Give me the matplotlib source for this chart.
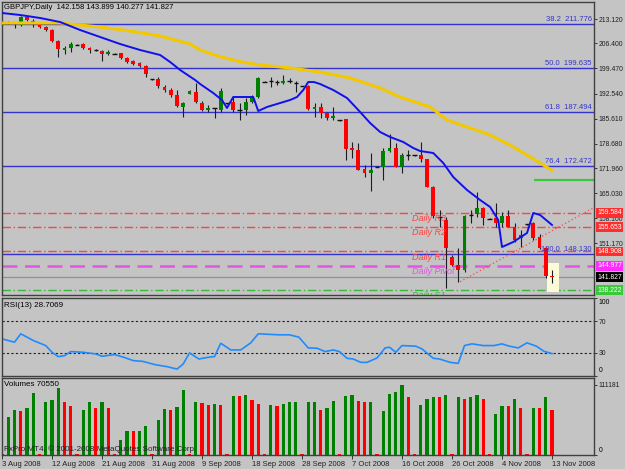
import numpy as np
import matplotlib
matplotlib.use('Agg')
import matplotlib.pyplot as plt
import matplotlib.transforms as mtransforms
from matplotlib.patches import Rectangle

plt.rcParams['font.family'] = ['Liberation Sans', 'DejaVu Sans']

# GBPJPY daily, one slot per trading day (Sunday bars included), slot 0 = Sun 3 Aug 2008
opens = [212.29, 212.29, 212.21, 211.46, 213.59, 212.65, 211.66, 210.83, 210.08, 207.13,
         204.56, 205.03, 206.13, 206.13, 205.20, 204.56, 204.37, 203.46, 203.65, 203.65,
         202.27, 201.52, 200.89, 200.14, 196.55, 196.55, 194.42, 193.51, 192.13, 188.90,
         192.41, 193.04, 190.00, 187.99, 188.54, 187.99, 189.92, 190.28, 187.99, 187.99,
         190.28, 191.66, 195.80, 195.80, 195.53, 195.36, 196.00, 195.80, 194.62, 194.62,
         188.18, 188.73, 187.08, 185.70, 185.14, 185.42, 177.41, 176.94, 171.61, 170.50,
         172.33, 172.33, 176.75, 177.41, 172.33, 175.56, 175.56, 175.56, 174.37, 166.80,
         158.44, 157.61, 147.47, 145.18, 143.80, 158.99, 159.26, 161.00, 158.07, 158.24,
         156.69, 158.71, 155.59, 152.55, 156.50, 156.69, 152.83, 149.79, 142.158]
highs = [212.43, 212.57, 212.29, 214.03, 213.81, 213.04, 211.74, 211.19, 210.28, 207.32,
         205.66, 206.85, 206.22, 206.58, 205.47, 204.92, 204.56, 204.56, 203.73, 203.73,
         202.71, 201.80, 201.25, 200.42, 196.63, 197.02, 194.89, 193.98, 193.51, 190.28,
         193.43, 195.53, 190.47, 189.37, 188.62, 193.98, 190.00, 191.66, 189.84, 191.22,
         192.13, 197.19, 195.91, 197.02, 196.27, 197.66, 196.74, 196.00, 194.70, 194.81,
         189.84, 189.84, 187.52, 188.90, 185.23, 185.58, 179.23, 178.79, 172.80, 176.03,
         172.44, 177.41, 181.36, 178.79, 176.03, 176.94, 175.64, 179.23, 174.54, 166.99,
         160.37, 158.52, 147.94, 149.79, 159.00, 160.37, 165.42, 161.28, 158.16, 162.22,
         159.90, 160.37, 156.69, 154.84, 156.58, 157.14, 153.74, 150.23, 143.899]
lows = [212.02, 211.74, 210.55, 211.19, 212.57, 210.83, 210.77, 209.81, 206.85, 202.54,
        203.46, 204.09, 205.94, 204.84, 203.81, 204.28, 201.61, 203.18, 203.46, 202.07,
        200.89, 200.42, 199.95, 197.19, 196.36, 194.15, 193.04, 191.66, 188.73, 185.97,
        192.32, 189.84, 187.71, 187.44, 185.70, 187.52, 189.65, 187.52, 185.23, 186.61,
        189.84, 191.22, 195.64, 194.26, 194.89, 195.17, 195.36, 193.04, 194.53, 187.99,
        186.14, 185.70, 185.23, 185.23, 185.03, 174.18, 174.65, 171.33, 169.57, 165.70,
        172.16, 168.65, 176.47, 172.16, 170.50, 174.18, 175.37, 173.71, 166.64, 158.16,
        155.67, 138.74, 144.90, 140.56, 143.33, 156.69, 158.52, 156.23, 157.88, 155.76,
        155.76, 155.59, 151.61, 150.23, 156.31, 152.08, 149.51, 141.50, 140.277]
closes = [212.16, 212.02, 211.66, 213.76, 212.85, 211.66, 210.83, 210.08, 207.05, 204.75,
          205.03, 206.13, 206.08, 205.20, 204.56, 204.48, 203.46, 204.09, 203.59, 202.27,
          201.25, 200.69, 200.14, 197.93, 196.47, 194.62, 193.51, 192.13, 189.09, 190.00,
          193.32, 190.28, 187.99, 188.62, 188.46, 193.32, 189.84, 187.99, 187.90, 190.28,
          191.66, 196.74, 195.80, 195.91, 195.64, 196.00, 195.91, 195.53, 194.62, 188.18,
          188.73, 187.08, 185.70, 186.41, 185.14, 177.22, 176.94, 171.42, 170.50, 171.42,
          172.24, 176.75, 177.41, 172.33, 175.56, 175.48, 175.48, 174.37, 166.80, 158.71,
          158.35, 149.79, 145.18, 143.80, 158.71, 158.90, 161.00, 158.07, 158.02, 156.69,
          158.71, 155.76, 152.08, 153.46, 156.42, 152.55, 149.79, 142.16, 141.827]
volumes = [1500, 60200, 70600, 70400, 74100, 98800, 1500, 83400, 87500, 106100,
           83400, 78300, 1500, 70600, 83400, 74100, 84500, 75200, 1500, 24200,
           38100, 37500, 38200, 46300, 1500, 55100, 73000, 70600, 75700, 103000,
           1500, 84500, 81800, 79200, 80300, 79200, 1500, 93700, 93000, 95300,
           87500, 80300, 1500, 79200, 78300, 80300, 83400, 84500, 1500, 83400,
           83800, 71500, 74600, 85400, 1500, 93700, 95300, 85400, 84000, 84700,
           1500, 69000, 96200, 99900, 111181, 92600, 1500, 79200, 88000, 92600,
           92000, 95300, 1500, 92600, 89500, 92600, 95300, 88000, 1500, 64900,
           78300, 77200, 89500, 74600, 1500, 74600, 74000, 91600, 70550]

date_slots = [0, 8, 16, 24, 32, 40, 48, 56, 64, 72, 80, 88]
date_labels = ['3 Aug 2008', '12 Aug 2008', '21 Aug 2008', '31 Aug 2008', '9 Sep 2008',
               '18 Sep 2008', '28 Sep 2008', '7 Oct 2008', '16 Oct 2008', '26 Oct 2008',
               '4 Nov 2008', '13 Nov 2008']

# moving averages
blue_x = [0, 2.9, 6.1, 9.3, 12.5, 15.7, 18.9, 22.1, 25.3, 26.9, 28.5, 30.9, 31.7, 33.8, 35.2,
          36.0, 37.0, 40.2, 41.0, 42.4, 44.5, 46.1, 47.2, 48.2, 49.0, 49.9, 50.9, 53.0, 55.2,
          57.3, 58.9, 60.5, 62.1, 64.2, 65.8, 66.9, 69.0, 70.6, 72.2, 74.4, 76.5, 78.1, 79.4,
          80.0, 81.8, 84.0, 85.0, 86.1, 88.0]
blue_y = [214.78, 214.23, 213.40, 212.29, 210.08, 208.15, 206.22, 204.56, 203.18, 201.25,
          199.04, 196.27, 195.17, 192.68, 190.75, 188.54, 191.58, 191.58, 187.71, 188.82,
          189.92, 190.75, 191.58, 193.51, 195.72, 195.72, 195.17, 193.51, 191.30, 187.44,
          184.40, 181.91, 180.53, 179.15, 177.49, 176.66, 176.11, 173.35, 169.48, 165.89,
          163.13, 161.20, 157.61, 150.15, 151.53, 154.01, 159.54, 158.99, 156.23]
yellow_x = [0, 9.3, 15.7, 20.5, 25.3, 30.1, 31.7, 34.9, 38.1, 41.3, 46.1, 50.9, 55.7, 60.5,
            63.7, 68.5, 71.2, 74.9, 78.1, 81.3, 84.5, 88.2]
yellow_y = [212.02, 212.02, 210.91, 209.81, 208.43, 206.22, 204.56, 202.71, 201.33, 200.42,
            199.59, 198.48, 196.83, 194.06, 191.58, 188.82, 185.23, 183.02, 181.08, 178.32,
            175.01, 171.14]

rsi_x = [0, 2, 3, 5, 7, 8, 9, 10, 11, 13, 15, 16, 18, 19.5, 21, 22.5, 24.5, 26.4, 28, 29,
         30, 31.5, 33, 34, 35, 36.6, 38.2, 39.8, 41, 44.3, 46, 47.5, 49, 50.4, 51.7, 53, 54,
         55.2, 56.2, 57.4, 58.4, 60, 61.3, 62, 63, 64, 66.2, 67.2, 69, 70, 71.7, 73, 74,
         75.2, 77, 78.7, 80, 81, 82.6, 84, 85.5, 86.7, 88]
rsi_y = [47.6, 43.3, 54.1, 45.5, 39.0, 30.4, 24.9, 26.0, 31.3, 30.4, 28.3, 25.3, 27.5, 24.0,
         19.7, 18.8, 14.5, 12.0, 8.9, 15.4, 29.6, 21.8, 24.0, 24.9, 42.0, 33.4, 33.4, 42.5,
         54.1, 52.8, 52.8, 49.8, 36.0, 35.6, 31.3, 33.4, 31.3, 22.7, 21.8, 17.5, 17.5, 23.1,
         36.0, 36.9, 30.4, 39.0, 38.2, 34.7, 22.7, 21.8, 17.5, 16.2, 39.0, 41.2, 39.0, 39.0,
         41.2, 38.6, 36.0, 42.5, 38.2, 31.7, 28.7069]

fib_names = ['38.2', '50.0', '61.8', '76.4', '100.0']
fib_levels = [211.776, 199.635, 187.494, 172.472, 148.130]
pivot_names = ['Daily R3', 'Daily R2', 'Daily R1', 'Daily Pivot', 'Daily S1']
pivot_levels = [159.584, 155.653, 148.908, 144.977, 138.222]
price_ticks = [213.120, 206.400, 199.470, 192.540, 185.610, 178.680, 171.960, 165.030,
               158.100, 151.170]
trend_x = [73.3, 94.5]
trend_y = [140.56, 160.84]
green_level = 168.66
green_start = 85.1
last_price = 141.827

bg = '#c4c4c4'
W, H = 625, 469
XMAX = 94.72
SCALE_FS = 4.9


def box(x0, y0, x1, y1):
    return [x0 / W, 1 - y1 / H, (x1 - x0) / W, (y1 - y0) / H]


fig = plt.figure(figsize=(6.25, 4.69), dpi=100, facecolor=bg)
ax = fig.add_axes(box(2, 2, 594, 295))
ax_rsi = fig.add_axes(box(2, 298, 594, 376))
ax_vol = fig.add_axes(box(2, 378, 594, 455))

for a in (ax, ax_rsi, ax_vol):
    a.set_facecolor(bg)
    a.set_xlim(0, XMAX)
    for s in a.spines.values():
        s.set_color('#404040')
        s.set_linewidth(1)
    a.yaxis.tick_right()
    a.tick_params(axis='y', direction='out', length=2.5, width=0.6, colors='#202020',
                  labelsize=SCALE_FS, pad=1)
    a.tick_params(axis='x', bottom=False, labelbottom=False)

# ---- main price panel
ax.set_ylim(136.89, 217.82)
ax.set_yticks(price_ticks)
ax.set_yticklabels([f'{v:.3f}' for v in price_ticks])

for name, lvl in zip(fib_names, fib_levels):
    ax.axhline(lvl, color='#3434cc', lw=1.0, zorder=1)
    ax.text(XMAX - 0.35, lvl + 0.25, f'{name}  {lvl:.3f}', ha='right', va='bottom',
            color='#3434cc', fontsize=5.5, zorder=6)

pivot_colors = ['#ff4242', '#ff4242', '#ff4242', '#e455e4', '#3ab83a']
pivot_styles = [(0, (6, 2, 1, 2)), (0, (6, 2, 1, 2)), (0, (6, 2, 1, 2)), (0, (6, 3)),
                (0, (6, 2, 1, 2))]
pivot_widths = [1.0, 1.0, 1.0, 1.8, 1.0]
for name, lvl, col, ls, lw in zip(pivot_names, pivot_levels, pivot_colors, pivot_styles,
                                  pivot_widths):
    ax.axhline(lvl, color=col, lw=lw, linestyle=ls, zorder=1)
    ax.text(65.6, lvl - 0.3, name, ha='left', va='top', color=col, fontsize=6.5,
            style='italic', zorder=6, clip_on=True)

ax.axhline(last_price, color='#8e8eaa', lw=0.9, zorder=1)
ax.hlines(green_level, green_start, XMAX, color='#3cc83c', lw=1.6, zorder=1)
ax.plot(trend_x, trend_y, color='#ff4646', lw=0.9, linestyle=(0, (1, 2)), zorder=2)

ax.plot(yellow_x, yellow_y, color='#f2c800', lw=2.2, zorder=5, solid_capstyle='butt')
ax.plot(blue_x, blue_y, color='#1010ee', lw=1.4, zorder=5)

# highlight of the current bar
last = len(opens) - 1
ax.add_patch(Rectangle((last - 0.85, lows[last] - 2.45), 2.0,
                       highs[last] - lows[last] + 4.2, facecolor='#fbfbd8',
                       edgecolor='none', zorder=2))

o = np.array(opens)
c = np.array(closes)
h = np.array(highs)
l = np.array(lows)
idx = np.arange(len(o))
ax.vlines(idx, l, h, color='#1c1c28', lw=0.8, zorder=3)
doji = np.abs(c - o) < 0.3
up = (c > o) & ~doji
dn = (c < o) & ~doji
ax.bar(idx[up], (c - o)[up], bottom=o[up], width=0.62, color='#008000', zorder=4)
ax.bar(idx[dn], (o - c)[dn], bottom=c[dn], width=0.62, color='#ff0000', zorder=4)
ax.hlines(c[doji], idx[doji] - 0.35, idx[doji] + 0.35, color='#101010', lw=1.0, zorder=4)

# coloured price labels on the right scale
blend = mtransforms.blended_transform_factory(ax.transAxes, ax.transData)
label_levels = pivot_levels + [last_price]
label_colors = ['#ff2e2e', '#ff2e2e', '#ff2e2e', '#ff2cff', '#3cc83c', '#000000']
for lvl, col in zip(label_levels, label_colors):
    ax.text(1.0055, lvl, f'{lvl:.3f}', transform=blend, ha='left', va='center',
            fontsize=SCALE_FS, color='white', clip_on=False, zorder=10,
            bbox=dict(boxstyle='square,pad=0.2', fc=col, ec='none'))

ax.text(0.004, 0.981, f'GBPJPY,Daily  {opens[last]:.3f} {highs[last]:.3f} '
        f'{lows[last]:.3f} {closes[last]:.3f}', transform=ax.transAxes, ha='left',
        va='center', fontsize=5.5, color='black')

# ---- RSI panel
ax_rsi.set_ylim(0, 100)
ax_rsi.axhline(70, color='#202020', lw=0.8, linestyle=(0, (2, 2)))
ax_rsi.axhline(30, color='#202020', lw=0.8, linestyle=(0, (2, 2)))
ax_rsi.plot(rsi_x, rsi_y, color='#1e8cff', lw=1.2)
ax_rsi.set_yticks([0, 30, 70, 100])
ax_rsi.set_yticklabels(['', '30', '70', ''])
rblend = mtransforms.blended_transform_factory(ax_rsi.transAxes, ax_rsi.transData)
ax_rsi.text(1.0075, 99, '100', transform=rblend, ha='left', va='top', fontsize=SCALE_FS)
ax_rsi.text(1.0075, 2, '0', transform=rblend, ha='left', va='bottom', fontsize=SCALE_FS)
ax_rsi.text(0.004, 0.905, f'RSI(13) {rsi_y[-1]:.4f}', transform=ax_rsi.transAxes,
            ha='left', va='center', fontsize=5.8)

# ---- volume panel
v = np.array(volumes)
vcol = ['#ff0000'] + ['#008000' if v[i] > v[i - 1] else '#ff0000' for i in range(1, len(v))]
ax_vol.set_ylim(0, 122000)
ax_vol.bar(idx, v, width=0.5, color=vcol, zorder=2)
ax_vol.set_yticks([0, max(volumes)])
ax_vol.set_yticklabels(['', str(max(volumes))])
vblend = mtransforms.blended_transform_factory(ax_vol.transAxes, ax_vol.transData)
ax_vol.text(1.0075, 1500, '0', transform=vblend, ha='left', va='bottom', fontsize=SCALE_FS)
ax_vol.text(0.004, 0.91, f'Volumes {volumes[-1]}', transform=ax_vol.transAxes,
            ha='left', va='center', fontsize=5.8)
ax_vol.text(0.004, 0.08, 'FxPro MT4, \u00a9 2001-2008 MetaQuotes Software Corp.',
            transform=ax_vol.transAxes, ha='left', va='center', fontsize=5.8,
            color='#202020', zorder=5)
ax_vol.set_xticks(date_slots)
ax_vol.set_xticklabels(date_labels)
ax_vol.tick_params(axis='x', bottom=True, labelbottom=True, direction='out', length=3,
                   width=0.6, colors='#202020', labelsize=5.5, pad=1)
for t in ax_vol.get_xticklabels():
    t.set_ha('left')

fig.savefig('out.png', dpi=100, facecolor=bg)
